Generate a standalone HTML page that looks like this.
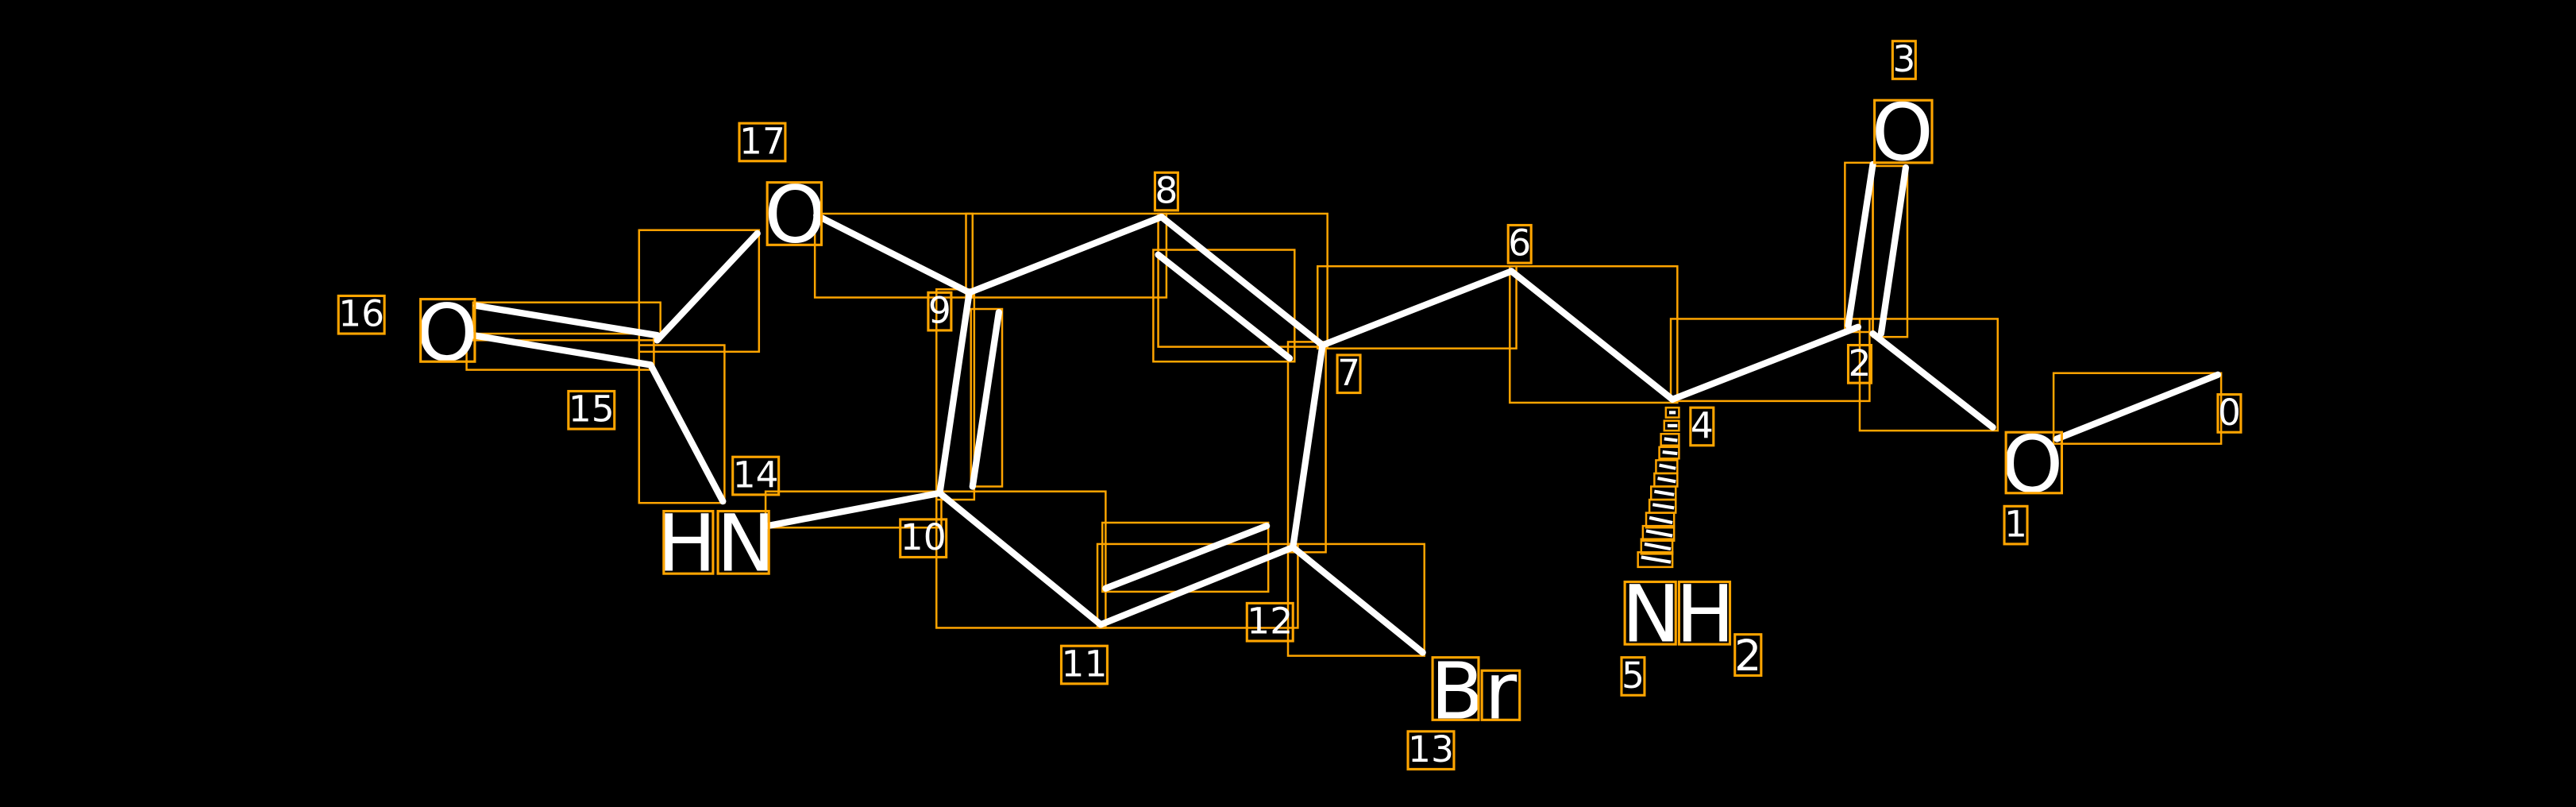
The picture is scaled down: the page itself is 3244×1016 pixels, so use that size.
<!DOCTYPE html>
<html><head><meta charset="utf-8"><style>
html,body{margin:0;padding:0;background:#000;}
svg{display:block;}
text{font-family:"DejaVu Sans","Liberation Sans",sans-serif;fill:#fff;text-anchor:middle;dominant-baseline:central;}
.b{stroke:#fff;stroke-width:4;stroke-linecap:round;}
.r{fill:none;stroke:#FFA500;stroke-width:1.2;}
.lb{fill:none;stroke:#FFA500;stroke-width:1.5;}
</style></head><body>
<svg width="3244" height="1016" viewBox="0 0 1568 491" preserveAspectRatio="none" xmlns="http://www.w3.org/2000/svg">
<rect x="0" y="0" width="1568" height="491" fill="#000"/>
<g>
<!-- bond boxes -->
<rect class="r" x="1250" y="227" width="102" height="43"/>
<rect class="r" x="1132" y="194" width="84" height="68"/>
<rect class="r" x="1123" y="99" width="17" height="103"/>
<rect class="r" x="1140" y="101" width="21" height="104"/>
<rect class="r" x="1017" y="194" width="121" height="50"/>
<rect class="r" x="919" y="162" width="102" height="83"/>
<rect class="r" x="802" y="162" width="121" height="50"/>
<rect class="r" x="705" y="130" width="103" height="81"/>
<rect class="r" x="702" y="152" width="86" height="68"/>
<rect class="r" x="588" y="130" width="122" height="51"/>
<rect class="r" x="496" y="130" width="96" height="51"/>
<rect class="r" x="784" y="208" width="23" height="128"/>
<rect class="r" x="784" y="331" width="83" height="68"/>
<rect class="r" x="668" y="331" width="122" height="51"/>
<rect class="r" x="671" y="318" width="101" height="42"/>
<rect class="r" x="570" y="299" width="103" height="83"/>
<rect class="r" x="570" y="176" width="23" height="128"/>
<rect class="r" x="591" y="188" width="19" height="108"/>
<rect class="r" x="466" y="299" width="107" height="22"/>
<rect class="r" x="389" y="210" width="52" height="96"/>
<rect class="r" x="288" y="184" width="114" height="23"/>
<rect class="r" x="284" y="203" width="114" height="22"/>
<rect class="r" x="389" y="140" width="73" height="74"/>
</g>
<g>
<line class="b" x1="1350" y1="228" x2="1252" y2="267"/>
<line class="b" x1="1213" y1="260" x2="1140" y2="203"/>
<line class="b" x1="1125" y1="198" x2="1140" y2="100"/>
<line class="b" x1="1145" y1="203" x2="1160" y2="102"/>
<line class="b" x1="1131" y1="199" x2="1018" y2="243"/>
<line class="b" x1="1018" y1="243" x2="920" y2="165"/>
<line class="b" x1="920" y1="165" x2="805" y2="210"/>
<line class="b" x1="805" y1="210" x2="707" y2="132"/>
<line class="b" x1="785" y1="218" x2="705" y2="155"/>
<line class="b" x1="707" y1="132" x2="590" y2="178"/>
<line class="b" x1="590" y1="178" x2="497" y2="131"/>
<line class="b" x1="805" y1="210" x2="787" y2="333"/>
<line class="b" x1="787" y1="333" x2="866" y2="397"/>
<line class="b" x1="787" y1="333" x2="670" y2="380"/>
<line class="b" x1="673" y1="358" x2="771" y2="320"/>
<line class="b" x1="670" y1="380" x2="572" y2="300"/>
<line class="b" x1="572" y1="300" x2="590" y2="178"/>
<line class="b" x1="592" y1="296" x2="608" y2="190"/>
<line class="b" x1="572" y1="300" x2="467" y2="320"/>
<line class="b" x1="440" y1="305" x2="396" y2="222"/>
<line class="b" x1="290" y1="186" x2="400" y2="204"/>
<line class="b" x1="288" y1="204" x2="396" y2="222"/>
<line class="b" x1="400" y1="207" x2="461" y2="142"/>
</g>
<!-- hashed wedge 4->5 -->
<g stroke="#fff" stroke-width="2">
<line x1="1016" y1="251" x2="1020" y2="251"/>
<line x1="1015" y1="259" x2="1021" y2="259"/>
<line x1="1013" y1="267" x2="1021" y2="268"/>
<line x1="1012" y1="275" x2="1021" y2="276"/>
<line x1="1010" y1="283" x2="1020" y2="285"/>
<line x1="1009" y1="291" x2="1020" y2="293"/>
<line x1="1007" y1="299" x2="1019" y2="301"/>
<line x1="1006" y1="307" x2="1019" y2="309"/>
<line x1="1004" y1="315" x2="1018" y2="318"/>
<line x1="1002" y1="323" x2="1018" y2="326"/>
<line x1="1001" y1="331" x2="1017" y2="334"/>
<line x1="999" y1="339" x2="1017" y2="342"/>
</g>
<g fill="none" stroke="#FFA500" stroke-width="1.2">
<rect x="1014" y="248" width="8" height="6"/><rect x="1013" y="256" width="9" height="6"/>
<rect x="1011" y="264" width="11" height="7"/><rect x="1010" y="272" width="12" height="7"/>
<rect x="1008" y="280" width="13" height="8"/><rect x="1007" y="288" width="14" height="8"/>
<rect x="1005" y="296" width="15" height="8"/><rect x="1004" y="304" width="16" height="8"/>
<rect x="1002" y="312" width="17" height="9"/><rect x="1000" y="320" width="19" height="9"/>
<rect x="999" y="328" width="19" height="9"/><rect x="997" y="336" width="21" height="9"/>
</g>
<!-- atom labels -->
<g font-size="48">
<text x="1158" y="81">O</text>
<text x="1237" y="283">O</text>
<text x="1005" y="374">N</text>
<text x="1038" y="374">H</text>
<text x="897" y="421">Br</text>
<text x="436" y="331">HN</text>
<text x="272" y="203">O</text>
<text x="484" y="131">O</text>
</g>
<g font-size="26"><text x="1064" y="399">2</text></g>
<g class="lb">
<rect x="1141" y="61" width="35" height="38"/>
<rect x="1221" y="263" width="34" height="37"/>
<rect x="989" y="354" width="31" height="38"/>
<rect x="1022" y="354" width="31" height="38"/>
<rect x="1056" y="386" width="16" height="25"/>
<rect x="872" y="400" width="28" height="38"/>
<rect x="902" y="408" width="23" height="30"/>
<rect x="404" y="311" width="30" height="38"/>
<rect x="437" y="311" width="31" height="38"/>
<rect x="256" y="182" width="33" height="38"/>
<rect x="467" y="111" width="33" height="38"/>
</g>
<!-- index labels -->
<g font-size="22">
<text x="1357" y="251">0</text>
<text x="1227" y="319">1</text>
<text x="1132" y="221">2</text>
<text x="1159" y="36">3</text>
<text x="1036" y="259">4</text>
<text x="994" y="411">5</text>
<text x="925" y="148">6</text>
<text x="821" y="227">7</text>
<text x="710" y="116">8</text>
<text x="572" y="189">9</text>
<text x="562" y="327">10</text>
<text x="660" y="404">11</text>
<text x="773" y="378">12</text>
<text x="871" y="456">13</text>
<text x="460" y="289">14</text>
<text x="360" y="249">15</text>
<text x="220" y="191">16</text>
<text x="464" y="86">17</text>
</g>
<g class="lb" stroke-width="1.2">
<rect x="1350" y="240" width="14" height="23"/>
<rect x="1220" y="308" width="14" height="23"/>
<rect x="1125" y="210" width="14" height="23"/>
<rect x="1152" y="25" width="14" height="23"/>
<rect x="1029" y="248" width="14" height="23"/>
<rect x="987" y="400" width="14" height="23"/>
<rect x="918" y="137" width="14" height="23"/>
<rect x="814" y="216" width="14" height="23"/>
<rect x="703" y="105" width="14" height="23"/>
<rect x="565" y="178" width="14" height="23"/>
<rect x="548" y="316" width="28" height="23"/>
<rect x="646" y="393" width="28" height="23"/>
<rect x="759" y="367" width="28" height="23"/>
<rect x="857" y="445" width="28" height="23"/>
<rect x="446" y="278" width="28" height="23"/>
<rect x="346" y="238" width="28" height="23"/>
<rect x="206" y="180" width="28" height="23"/>
<rect x="450" y="75" width="28" height="23"/>
</g>
</svg>
</body></html>
